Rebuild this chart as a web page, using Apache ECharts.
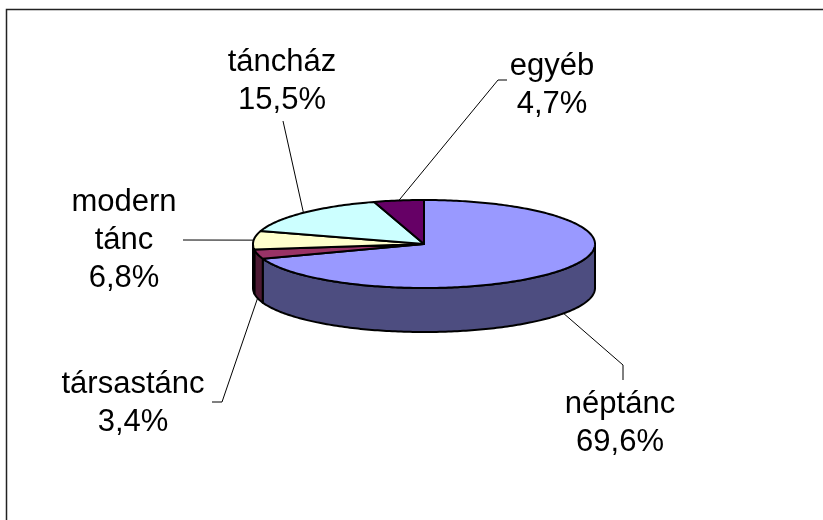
<!DOCTYPE html>
<html>
<head>
<meta charset="utf-8">
<script src="https://cdn.jsdelivr.net/npm/echarts@6/dist/echarts.min.js"></script>
<style>
  html, body { margin: 0; padding: 0; background: #fff; }
  #chart { width: 823px; height: 520px; }
</style>
</head>
<body>
<div id="chart"></div>
<script>
// Dance types and their shares (%)
const categories = ['néptánc', 'társastánc', 'modern tánc', 'táncház', 'egyéb'];
const labelNames = ['néptánc', 'társastánc', 'modern\ntánc', 'táncház', 'egyéb'];
const shares = [69.6, 3.4, 6.8, 15.5, 4.7];

// Face colours (top) and shaded colours (rim)
const topColors = ['#9999FF', '#993366', '#FFFFCC', '#CCFFFF', '#660066'];
const sideColors = ['#4D4D80', '#4D1A33', '#80806A', '#6A8080', '#330033'];

// Disc geometry: centre of the top face, radii of the ellipse, rim height
const DISC = { cx: 424, cy: 244, rx: 171, ry: 44, depth: 44 };

// Label blocks (centre x, top y) and leader-line bends
const labelLayout = [
  { x: 620, y: 385, leader: [[623, 365], [623, 380]] },
  { x: 133, y: 365, leader: [[222, 402], [212, 402]] },
  { x: 124, y: 183, leader: [[183, 240]] },
  { x: 282, y: 43,  leader: [[283, 121]] },
  { x: 552, y: 47,  leader: [[498, 80], [507, 80]] }
];

const total = shares.reduce((a, b) => a + b, 0);
const startAngles = [];
let acc = 0;
shares.forEach(v => { startAngles.push(acc / total * Math.PI * 2); acc += v; });

function pt(theta, dy) {
  return [DISC.cx + DISC.rx * Math.sin(theta), DISC.cy - DISC.ry * Math.cos(theta) + (dy || 0)];
}
function arc(a0, a1, dy) {
  const pts = [];
  const n = Math.max(2, Math.ceil((a1 - a0) / (Math.PI / 180)));
  for (let i = 0; i <= n; i++) pts.push(pt(a0 + (a1 - a0) * i / n, dy));
  return pts;
}
function fmt(v) { return v.toFixed(1).replace('.', ',') + '%'; }

function renderItem(params, api) {
  const i = params.dataIndex;
  const val = api.value(0);
  const a0 = startAngles[i];
  const a1 = a0 + val / total * Math.PI * 2;
  const children = [];

  // visible part of the rim (front half of the disc)
  const v0 = Math.max(a0, Math.PI / 2), v1 = Math.min(a1, Math.PI * 1.5);
  if (v1 > v0) {
    const pts = arc(v0, v1, 0).concat(arc(v0, v1, DISC.depth).reverse());
    children.push({
      type: 'polygon', z2: 1,
      shape: { points: pts },
      style: { fill: sideColors[i], stroke: '#000', lineWidth: 2, lineJoin: 'round' }
    });
  }

  // top face
  children.push({
    type: 'polygon', z2: 2,
    shape: { points: [[DISC.cx, DISC.cy]].concat(arc(a0, a1, 0)) },
    style: { fill: topColors[i], stroke: '#000', lineWidth: 2, lineJoin: 'round' }
  });

  // leader line from the slice edge to its label
  const mid = (a0 + a1) / 2;
  const front = mid > Math.PI / 2 && mid < Math.PI * 1.5;
  const anchor = pt(mid, front ? DISC.depth : 0);
  const lay = labelLayout[i];
  children.push({
    type: 'polyline', z2: 3,
    shape: { points: [anchor].concat(lay.leader) },
    style: { stroke: '#000', lineWidth: 1, fill: null }
  });

  // label text
  children.push({
    type: 'text', z2: 4,
    style: {
      text: labelNames[i] + '\n' + fmt(val),
      x: lay.x, y: lay.y,
      font: '31px "Liberation Sans", Arial, sans-serif',
      fill: '#000', align: 'center', verticalAlign: 'top', lineHeight: 38
    }
  });

  return { type: 'group', children: children };
}

const chart = echarts.init(document.getElementById('chart'), null, { renderer: 'canvas' });
chart.setOption({
  backgroundColor: '#fff',
  animation: false,
  graphic: [{
    type: 'rect', z: -1,
    shape: { x: 6.5, y: 9.5, width: 900, height: 600 },
    style: { fill: 'none', stroke: '#222', lineWidth: 1.5 }
  }],
  series: [{
    type: 'custom',
    coordinateSystem: 'none',
    renderItem: renderItem,
    data: shares.map((v, i) => ({ name: categories[i], value: [v] }))
  }]
});
</script>
</body>
</html>
